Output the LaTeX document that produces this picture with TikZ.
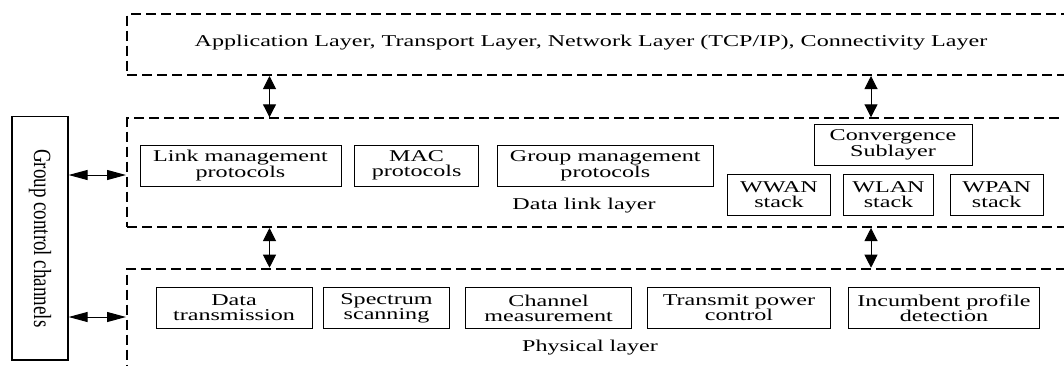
\documentclass[tikz,border=0pt]{standalone}
\usepackage{fontspec}
\setmainfont{Liberation Serif}[FakeStretch=1.46]
\newfontfamily\uprightserif{Liberation Serif}
\usetikzlibrary{arrows.meta}

\begin{document}
\begin{tikzpicture}[x=1pt,y=-1pt,
  every node/.style={font=\fontsize{16.5}{15}\selectfont},
  layer/.style={draw, line width=2pt, dash pattern=on 10pt off 5pt,
    inner sep=0pt, anchor=north west},
  cell/.style={draw, line width=1pt, inner sep=0pt, align=center,
    minimum height=41pt},
  gbox/.style={draw, line width=1.2pt, inner sep=0pt},
  vdbl/.style={line width=1pt,
    {Triangle[length=13pt,width=13pt]}-{Triangle[length=13pt,width=13pt]}},
  hdbl/.style={line width=1pt,
    {Triangle[length=19pt,width=10pt]}-{Triangle[length=19pt,width=10pt]}},
  lbl/.style={inner sep=0pt}
]
\useasboundingbox (0,0) rectangle (1064,365);
\clip (0,0) rectangle (1064,365);
\fill[white] (0,0) rectangle (1064,365);

% layer frames (open towards the right and bottom)
\node[layer, minimum width=974pt, minimum height=60.7pt] (app) at (126,13.3) {};
\node[layer, minimum width=974pt, minimum height=108.7pt] (dll) at (126,117.3) {};
\node[layer, minimum width=974pt, minimum height=131pt] (phy) at (126,267.7) {};

\node[lbl] (applbl) at (591,42.5)
  {Application Layer, Transport Layer, Network Layer (TCP/IP), Connectivity Layer};
\node[lbl] (dlllbl) at (584,206) {Data link layer};
\node[lbl] (phylbl) at (590,348) {Physical layer};

% data link layer blocks
\node[cell, minimum width=201pt] (lmp) at (240.5,165.5) {Link management\\protocols};
\node[cell, minimum width=124pt] (mac) at (416.6,165.5) {MAC\\protocols};
\node[cell, minimum width=215.4pt] (gmp) at (605.3,165.5) {Group management\\protocols};
\node[cell, minimum width=158pt, minimum height=40.7pt] (conv) at (893,144.7) {Convergence\\Sublayer};
\node[cell, minimum width=103pt] (wwan) at (779,194.5) {WWAN\\stack};
\node[cell, minimum width=90pt] (wlan) at (888.5,194.5) {WLAN\\stack};
\node[cell, minimum width=93pt] (wpan) at (996.7,194.5) {WPAN\\stack};

% physical layer blocks
\node[cell, minimum width=156pt] (dtx) at (234,308) {Data\\transmission};
\node[cell, minimum width=125.7pt] (spec) at (386.5,308) {Spectrum\\scanning};
\node[cell, minimum width=166pt] (chm) at (548.6,308) {Channel\\measurement};
\node[cell, minimum width=183pt] (tpc) at (739,308) {Transmit power\\control};
\node[cell, minimum width=191pt] (ipd) at (944,308) {Incumbent profile\\detection};

% group control channels
\node[gbox, minimum width=56pt, minimum height=243.3pt] (gcc) at (40,238.3)
  {\rotatebox{-90}{\scalebox{1}[1.3]{\uprightserif\fontsize{19}{19}\selectfont Group control channels}}};

% connectors
\coordinate (c1) at (269.5,0);
\coordinate (c2) at (871,0);
\coordinate (g1) at (0,175);
\coordinate (g2) at (0,317);
\draw[vdbl] (app.south -| c1) -- (dll.north -| c1);
\draw[vdbl] (app.south -| c2) -- (dll.north -| c2);
\draw[vdbl] (dll.south -| c1) -- (phy.north -| c1);
\draw[vdbl] (dll.south -| c2) -- (phy.north -| c2);
\draw[hdbl] (gcc.east |- g1) -- (dll.west |- g1);
\draw[hdbl] (gcc.east |- g2) -- (phy.west |- g2);
\end{tikzpicture}
\end{document}
